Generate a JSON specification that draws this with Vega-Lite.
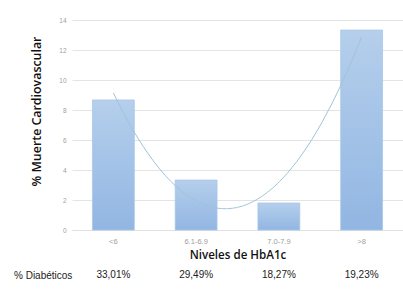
{
  "$schema": "https://vega.github.io/schema/vega-lite/v6.json",
  "width": 331,
  "height": 210,
  "autosize": "none",
  "padding": {"left": 72, "top": 20, "right": 0, "bottom": 74},
  "background": "white",
  "config": {"view": {"stroke": null}},
  "title": {
    "text": "% Diabéticos",
    "orient": "bottom",
    "anchor": "start",
    "frame": "group",
    "font": "Liberation Sans",
    "fontSize": 10,
    "fontWeight": "normal",
    "color": "#222222",
    "dx": -58,
    "offset": -9
  },
  "data": {
    "values": [
      {"nivel": "<6", "i": 1, "muerte": 8.67, "diab": "33,01%"},
      {"nivel": "6.1-6.9", "i": 2, "muerte": 3.33, "diab": "29,49%"},
      {"nivel": "7.0-7.9", "i": 3, "muerte": 1.8, "diab": "18,27%"},
      {"nivel": ">8", "i": 4, "muerte": 13.33, "diab": "19,23%"}
    ]
  },
  "resolve": {"scale": {"x": "independent"}, "axis": {"y": "independent"}},
  "layer": [
    {
      "mark": {
        "type": "bar",
        "fill": {
          "gradient": "linear", "x1": 0, "y1": 0, "x2": 0, "y2": 1,
          "stops": [{"offset": 0, "color": "#b5cfec"}, {"offset": 1, "color": "#92b6e2"}]
        },
        "stroke": "#a8c6ea",
        "strokeWidth": 0.8
      },
      "encoding": {
        "x": {
          "field": "nivel", "type": "nominal", "sort": null,
          "scale": {"paddingInner": 0.494, "paddingOuter": 0.247},
          "axis": {
            "title": "Niveles de HbA1c",
            "titleFont": "Open Sans",
            "titleFontSize": 11.6,
            "titleFontWeight": 600,
            "titleColor": "#111111",
            "titlePadding": 5,
            "labelAngle": 0,
            "labelFont": "Liberation Sans",
            "labelFontSize": 7.5,
            "labelColor": "#a0a0a0",
            "labelPadding": 7,
            "ticks": false,
            "domain": true,
            "domainColor": "#e0e0e0"
          }
        },
        "y": {
          "field": "muerte", "type": "quantitative",
          "scale": {"domain": [0, 14]},
          "axis": {
            "values": [0, 2, 4, 6, 8, 10, 12, 14],
            "labelOverlap": false,
            "title": "% Muerte Cardiovascular",
            "titleFont": "Open Sans",
            "titleFontSize": 12.4,
            "titleFontWeight": 600,
            "titleColor": "#111111",
            "titlePadding": 15,
            "titleY": 91,
            "labelFont": "Liberation Sans",
            "labelFontSize": 6.5,
            "labelColor": "#a0a0a0",
            "labelPadding": 6,
            "ticks": false,
            "domain": false,
            "grid": true,
            "gridColor": "#e4e4e4"
          }
        }
      }
    },
    {
      "mark": {"type": "text", "font": "Liberation Sans", "fontSize": 10, "color": "#222222", "baseline": "middle", "dy": 45},
      "encoding": {
        "x": {"field": "nivel", "type": "nominal", "sort": null, "scale": {"paddingInner": 0.494, "paddingOuter": 0.247}, "axis": null},
        "y": {"datum": 0, "type": "quantitative", "axis": null},
        "text": {"field": "diab"}
      }
    },
    {
      "transform": [{"regression": "muerte", "on": "i", "method": "poly", "order": 2}],
      "mark": {"type": "line", "color": "#9fc4d8", "strokeWidth": 1},
      "encoding": {
        "x": {"field": "i", "type": "quantitative", "scale": {"domain": [0.5, 4.5]}, "axis": null},
        "y": {"field": "muerte", "type": "quantitative", "axis": null}
      }
    }
  ]
}
